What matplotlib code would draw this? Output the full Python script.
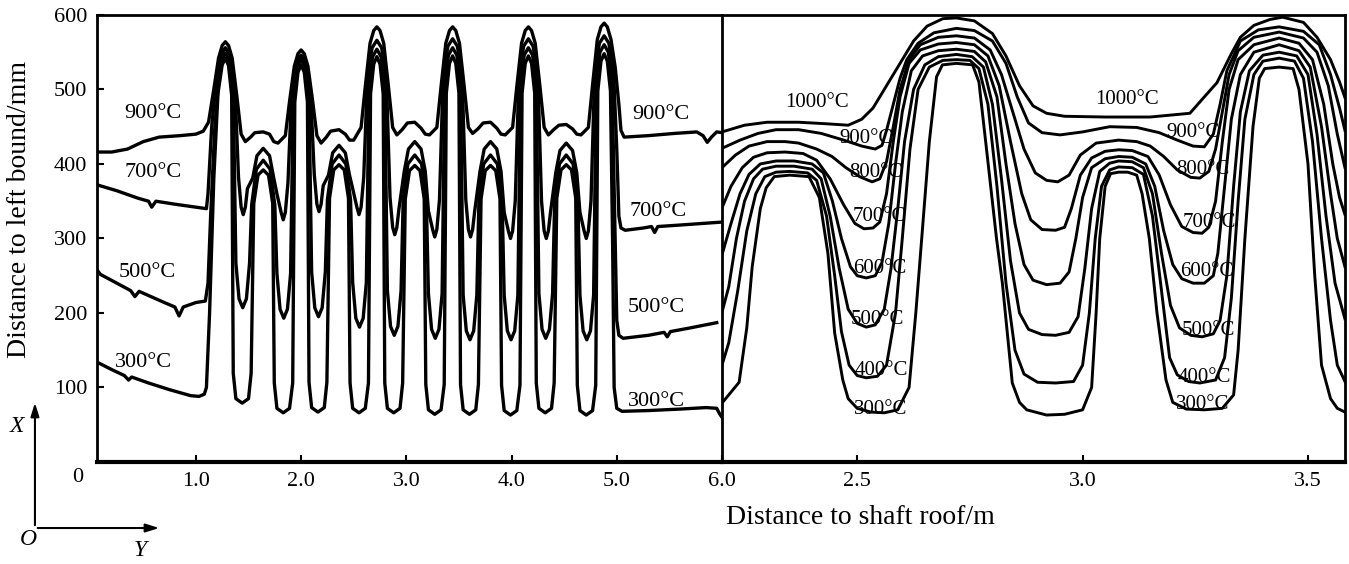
import matplotlib.pyplot as plt
from matplotlib.patches import FancyArrowPatch

# ---- left panel (0 - 6 m): isotherm traces, (x [m], distance [mm])
left_900 = [
    (0.06, 416), (0.20, 416), (0.35, 420), (0.50, 430), (0.65, 436), (0.85, 438), (1.00, 440), (1.07, 444), (1.12, 456),
    (1.17, 500), (1.215, 542), (1.25, 559), (1.28, 564), (1.31, 559), (1.345, 542), (1.39, 490), (1.43, 440), (1.47, 430),
    (1.52, 436), (1.56, 442), (1.64, 443), (1.70, 440), (1.74, 430), (1.78, 428),
    (1.85, 438), (1.89, 484), (1.935, 531), (1.97, 548), (2.00, 553), (2.03, 548), (2.065, 531), (2.11, 484), (2.15, 438), (2.19, 428),
    (2.24, 436), (2.28, 444), (2.36, 446), (2.42, 440), (2.46, 432), (2.50, 432),
    (2.57, 449), (2.61, 504), (2.655, 562), (2.69, 579), (2.72, 584), (2.75, 579), (2.785, 562), (2.83, 504), (2.87, 449), (2.91, 439),
    (2.96, 446), (3.01, 455), (3.08, 456), (3.14, 448), (3.18, 440), (3.22, 439),
    (3.29, 449), (3.33, 504), (3.375, 562), (3.41, 579), (3.44, 584), (3.47, 579), (3.505, 562), (3.55, 504), (3.59, 449), (3.63, 441),
    (3.68, 447), (3.73, 455), (3.80, 456), (3.86, 448), (3.90, 440), (3.94, 439),
    (4.01, 449), (4.05, 504), (4.095, 562), (4.13, 579), (4.16, 584), (4.19, 579), (4.225, 562), (4.27, 504), (4.31, 449), (4.35, 439),
    (4.40, 446), (4.45, 452), (4.52, 453), (4.58, 447), (4.62, 440), (4.66, 439),
    (4.73, 449), (4.77, 506), (4.815, 567), (4.85, 584), (4.88, 589), (4.91, 584), (4.945, 567), (4.985, 530), (5.02, 480), (5.04, 445), (5.07, 436),
    (5.30, 438), (5.55, 441), (5.76, 443), (5.82, 438), (5.86, 429), (5.90, 436), (5.95, 443), (6.00, 442),
]
left_700 = [
    (0.06, 372), (0.25, 364), (0.45, 354), (0.55, 350), (0.58, 342), (0.62, 350), (0.80, 346), (0.95, 343), (1.10, 340),
    (1.115, 360), (1.15, 450), (1.20, 520), (1.235, 546), (1.28, 556), (1.325, 546), (1.37, 506), (1.405, 382), (1.43, 342), (1.45, 332),
    (1.47, 342), (1.49, 367), (1.54, 381), (1.58, 411), (1.64, 421), (1.70, 411), (1.74, 381), (1.77, 360), (1.81, 335), (1.83, 325),
    (1.85, 335), (1.875, 375), (1.91, 496), (1.955, 536), (2.00, 546), (2.045, 536), (2.09, 496), (2.125, 386), (2.15, 346), (2.17, 336),
    (2.19, 346), (2.21, 371), (2.26, 385), (2.30, 415), (2.36, 425), (2.42, 415), (2.46, 385), (2.49, 367), (2.53, 342), (2.55, 332),
    (2.57, 342), (2.595, 382), (2.63, 516), (2.675, 556), (2.72, 566), (2.765, 556), (2.81, 516), (2.845, 355), (2.87, 315), (2.89, 305),
    (2.91, 315), (2.93, 340), (2.98, 390), (3.02, 420), (3.08, 430), (3.14, 420), (3.18, 390), (3.21, 337), (3.25, 312), (3.27, 302),
    (3.29, 312), (3.315, 352), (3.35, 518), (3.395, 558), (3.44, 568), (3.485, 558), (3.53, 518), (3.565, 352), (3.59, 312), (3.61, 302),
    (3.63, 312), (3.65, 337), (3.70, 390), (3.74, 420), (3.80, 430), (3.86, 420), (3.90, 390), (3.93, 335), (3.97, 310), (3.99, 300),
    (4.01, 310), (4.035, 350), (4.07, 518), (4.115, 558), (4.16, 568), (4.205, 558), (4.25, 518), (4.285, 350), (4.31, 310), (4.33, 300),
    (4.35, 310), (4.37, 335), (4.42, 388), (4.46, 418), (4.52, 428), (4.58, 418), (4.62, 388), (4.65, 335), (4.69, 310), (4.71, 300),
    (4.73, 310), (4.755, 350), (4.79, 522), (4.835, 562), (4.88, 572), (4.925, 562), (4.97, 522), (5.00, 420), (5.02, 330), (5.04, 314),
    (5.08, 311), (5.25, 314), (5.33, 316), (5.36, 308), (5.39, 316), (5.60, 318), (5.80, 320), (6.00, 322),
]
left_500 = [
    (0.06, 258), (0.09, 252), (0.30, 236), (0.38, 230), (0.42, 222), (0.46, 229), (0.70, 214), (0.80, 208), (0.84, 196), (0.88, 208),
    (1.00, 214), (1.09, 216), (1.115, 240), (1.14, 330), (1.18, 450), (1.22, 515), (1.24, 539), (1.28, 549), (1.32, 539), (1.355, 499),
    (1.38, 267), (1.41, 219), (1.445, 207), (1.48, 219), (1.51, 267), (1.53, 345), (1.575, 393), (1.64, 405), (1.705, 393), (1.75, 345),
    (1.77, 253), (1.80, 205), (1.835, 193), (1.87, 205), (1.90, 253), (1.925, 490), (1.96, 530), (2.00, 540), (2.04, 530), (2.075, 490),
    (2.10, 255), (2.13, 207), (2.165, 195), (2.20, 207), (2.23, 255), (2.25, 352), (2.295, 400), (2.36, 412), (2.425, 400), (2.47, 352),
    (2.49, 241), (2.52, 193), (2.555, 181), (2.59, 193), (2.62, 241), (2.645, 504), (2.68, 544), (2.72, 554), (2.76, 544), (2.795, 504),
    (2.82, 230), (2.85, 182), (2.885, 170), (2.92, 182), (2.95, 230), (2.97, 352), (3.015, 400), (3.08, 412), (3.145, 400), (3.19, 352),
    (3.21, 226), (3.24, 178), (3.275, 166), (3.31, 178), (3.34, 226), (3.365, 506), (3.40, 546), (3.44, 556), (3.48, 546), (3.515, 506),
    (3.54, 224), (3.57, 176), (3.605, 164), (3.64, 176), (3.67, 224), (3.69, 352), (3.735, 400), (3.80, 412), (3.865, 400), (3.91, 352),
    (3.93, 224), (3.96, 176), (3.995, 164), (4.03, 176), (4.06, 224), (4.085, 506), (4.12, 546), (4.16, 556), (4.20, 546), (4.235, 506),
    (4.26, 226), (4.29, 178), (4.325, 166), (4.36, 178), (4.39, 226), (4.41, 352), (4.455, 400), (4.52, 412), (4.585, 400), (4.63, 352),
    (4.65, 224), (4.68, 176), (4.715, 164), (4.75, 176), (4.78, 224), (4.805, 510), (4.84, 550), (4.88, 560), (4.92, 550), (4.955, 510),
    (4.985, 300), (5.00, 190), (5.02, 170), (5.06, 166), (5.30, 170), (5.45, 174), (5.48, 168), (5.51, 175), (5.70, 180), (5.95, 187),
]
left_300 = [
    (0.06, 134), (0.20, 124), (0.32, 116), (0.36, 110), (0.39, 114), (0.55, 106), (0.75, 97), (0.95, 89), (1.03, 88), (1.08, 91),
    (1.10, 100), (1.13, 200), (1.17, 380), (1.21, 495), (1.25, 533), (1.28, 542), (1.31, 532), (1.34, 492),
    (1.355, 119), (1.38, 85), (1.44, 79), (1.50, 85), (1.525, 119), (1.55, 347), (1.59, 385), (1.64, 392), (1.69, 385), (1.73, 347),
    (1.745, 106), (1.77, 72), (1.83, 66), (1.89, 72), (1.92, 106), (1.94, 483), (1.97, 523), (2.00, 533), (2.03, 523), (2.06, 483),
    (2.075, 107), (2.10, 73), (2.16, 67), (2.22, 73), (2.245, 107), (2.27, 354), (2.31, 392), (2.36, 399), (2.41, 392), (2.45, 354),
    (2.465, 106), (2.49, 72), (2.55, 66), (2.61, 72), (2.64, 106), (2.66, 494), (2.69, 534), (2.72, 544), (2.75, 534), (2.78, 494),
    (2.795, 106), (2.82, 72), (2.88, 66), (2.94, 72), (2.965, 106), (2.99, 353), (3.03, 391), (3.08, 398), (3.13, 391), (3.17, 353),
    (3.185, 104), (3.21, 70), (3.27, 64), (3.33, 70), (3.36, 104), (3.38, 495), (3.41, 535), (3.44, 545), (3.47, 535), (3.50, 495),
    (3.515, 104), (3.54, 70), (3.60, 64), (3.66, 70), (3.685, 104), (3.71, 353), (3.75, 391), (3.80, 398), (3.85, 391), (3.89, 353),
    (3.905, 103), (3.93, 69), (3.99, 63), (4.05, 69), (4.08, 103), (4.10, 495), (4.13, 535), (4.16, 545), (4.19, 535), (4.22, 495),
    (4.235, 106), (4.26, 72), (4.32, 66), (4.38, 72), (4.405, 106), (4.43, 354), (4.47, 392), (4.52, 399), (4.57, 392), (4.61, 354),
    (4.625, 103), (4.65, 69), (4.71, 63), (4.77, 69), (4.80, 103), (4.82, 498), (4.85, 538), (4.88, 548), (4.91, 538), (4.94, 498),
    (4.96, 300), (4.975, 100), (5.00, 72), (5.05, 68), (5.30, 69), (5.60, 71), (5.85, 73), (5.95, 72), (5.98, 64), (6.00, 60),
]

# ---- right panel (2.2 - 3.58 m), zoomed section
right_1000 = [
    (2.20, 443), (2.25, 452), (2.30, 456), (2.37, 456), (2.43, 454), (2.48, 452), (2.51, 460), (2.535, 475), (2.565, 505),
    (2.595, 535), (2.625, 565), (2.655, 585), (2.69, 595), (2.72, 596), (2.76, 592), (2.80, 575), (2.83, 545), (2.86, 505),
    (2.89, 478), (2.92, 468), (2.96, 464), (3.05, 463), (3.15, 463), (3.238, 468), (3.27, 490), (3.298, 509), (3.33, 548),
    (3.35, 570), (3.38, 586), (3.416, 594), (3.444, 597), (3.49, 590), (3.52, 570), (3.55, 540), (3.57, 510), (3.582, 489),
]
right_900 = [
    (2.20, 421), (2.24, 432), (2.28, 441), (2.32, 446), (2.37, 446), (2.42, 441), (2.47, 432), (2.51, 424), (2.54, 420),
    (2.555, 425), (2.565, 445), (2.58, 480), (2.595, 515), (2.61, 540), (2.635, 562), (2.67, 576), (2.72, 582), (2.76, 579),
    (2.80, 565), (2.83, 535), (2.855, 490), (2.88, 455), (2.91, 442), (2.95, 439), (3.00, 443), (3.06, 450), (3.12, 449),
    (3.17, 442), (3.21, 432), (3.245, 424), (3.27, 423), (3.29, 440), (3.305, 480), (3.32, 525), (3.35, 565), (3.39, 580),
    (3.436, 584), (3.49, 578), (3.525, 560), (3.55, 520), (3.57, 475), (3.582, 445),
]
right_800 = [
    (2.20, 395), (2.23, 412), (2.26, 424), (2.30, 430), (2.34, 430), (2.37, 428), (2.41, 420), (2.444, 410), (2.475, 395),
    (2.505, 383), (2.533, 376), (2.55, 380), (2.565, 403), (2.58, 450), (2.595, 500), (2.615, 540), (2.64, 560), (2.68, 570),
    (2.72, 572), (2.76, 569), (2.795, 553), (2.82, 520), (2.845, 470), (2.87, 420), (2.895, 388), (2.92, 378), (2.945, 376),
    (2.97, 385), (2.995, 412), (3.03, 428), (3.08, 432), (3.12, 430), (3.15, 424), (3.18, 410), (3.21, 392), (3.24, 382),
    (3.26, 381), (3.28, 390), (3.295, 420), (3.31, 470), (3.325, 520), (3.345, 552), (3.38, 570), (3.436, 577), (3.49, 569),
    (3.52, 550), (3.545, 505), (3.565, 440), (3.582, 395),
]
right_700 = [
    (2.20, 341), (2.22, 370), (2.245, 395), (2.27, 409), (2.30, 415), (2.34, 416), (2.38, 414), (2.41, 405), (2.44, 380),
    (2.47, 345), (2.495, 320), (2.515, 313), (2.535, 314), (2.55, 322), (2.565, 360), (2.58, 430), (2.595, 490), (2.615, 535),
    (2.64, 553), (2.68, 561), (2.72, 563), (2.76, 560), (2.79, 545), (2.815, 505), (2.84, 430), (2.865, 360), (2.885, 325),
    (2.91, 312), (2.94, 311), (2.96, 315), (2.975, 340), (2.995, 385), (3.02, 408), (3.05, 417), (3.08, 419), (3.11, 418),
    (3.145, 410), (3.17, 385), (3.195, 345), (3.22, 316), (3.245, 308), (3.265, 307), (3.28, 315), (3.295, 350), (3.31, 430),
    (3.325, 500), (3.345, 540), (3.38, 560), (3.436, 569), (3.48, 562), (3.51, 540), (3.535, 480), (3.555, 400), (3.57, 355),
    (3.582, 332),
]
right_600 = [
    (2.20, 278), (2.22, 320), (2.24, 360), (2.26, 386), (2.285, 400), (2.32, 404), (2.36, 404), (2.40, 400), (2.425, 388),
    (2.445, 350), (2.465, 300), (2.485, 262), (2.50, 250), (2.52, 247), (2.54, 250), (2.555, 268), (2.57, 320), (2.585, 400),
    (2.60, 470), (2.62, 525), (2.645, 545), (2.68, 552), (2.72, 554), (2.76, 551), (2.785, 537), (2.81, 490), (2.83, 400),
    (2.85, 320), (2.87, 265), (2.89, 244), (2.92, 238), (2.95, 240), (2.97, 255), (2.985, 300), (3.00, 355), (3.02, 395),
    (3.05, 407), (3.08, 410), (3.11, 409), (3.14, 400), (3.16, 370), (3.18, 310), (3.20, 265), (3.22, 246), (3.245, 240),
    (3.27, 240), (3.29, 250), (3.30, 280), (3.315, 370), (3.33, 460), (3.35, 520), (3.38, 550), (3.436, 560), (3.48, 552),
    (3.505, 530), (3.53, 450), (3.55, 360), (3.565, 300), (3.582, 262),
]
right_500 = [
    (2.20, 201), (2.215, 235), (2.232, 300), (2.25, 350), (2.27, 380), (2.29, 393), (2.32, 397), (2.36, 397), (2.40, 393),
    (2.42, 380), (2.44, 330), (2.46, 260), (2.48, 205), (2.50, 186), (2.52, 181), (2.54, 184), (2.56, 205), (2.575, 260),
    (2.59, 340), (2.605, 430), (2.625, 500), (2.65, 533), (2.68, 544), (2.72, 547), (2.755, 544), (2.78, 530), (2.80, 480),
    (2.82, 380), (2.84, 270), (2.86, 200), (2.88, 178), (2.91, 171), (2.94, 170), (2.97, 174), (2.99, 195), (3.005, 260),
    (3.02, 340), (3.038, 390), (3.06, 401), (3.08, 404), (3.11, 403), (3.135, 395), (3.155, 360), (3.175, 280), (3.195, 210),
    (3.215, 180), (3.24, 170), (3.265, 168), (3.29, 172), (3.305, 190), (3.32, 250), (3.335, 370), (3.35, 470), (3.37, 525),
    (3.40, 546), (3.436, 550), (3.475, 545), (3.50, 520), (3.52, 440), (3.54, 330), (3.56, 240), (3.582, 192),
]
right_400 = [
    (2.20, 130), (2.215, 160), (2.235, 230), (2.255, 310), (2.275, 360), (2.295, 383), (2.32, 389), (2.35, 390), (2.39, 388),
    (2.41, 378), (2.432, 330), (2.45, 250), (2.465, 175), (2.482, 130), (2.50, 116), (2.52, 113), (2.545, 115), (2.565, 130),
    (2.585, 200), (2.60, 300), (2.617, 420), (2.635, 500), (2.66, 530), (2.69, 539), (2.72, 540), (2.75, 539), (2.77, 528),
    (2.79, 480), (2.81, 370), (2.83, 240), (2.85, 150), (2.87, 118), (2.90, 107), (2.94, 106), (2.98, 108), (3.00, 130),
    (3.015, 200), (3.028, 300), (3.042, 370), (3.06, 392), (3.08, 396), (3.11, 395), (3.135, 386), (3.155, 330), (3.175, 230),
    (3.193, 140), (3.21, 117), (3.235, 108), (3.26, 106), (3.295, 110), (3.315, 140), (3.33, 220), (3.345, 350), (3.36, 460),
    (3.38, 520), (3.40, 538), (3.436, 542), (3.47, 538), (3.49, 515), (3.51, 430), (3.53, 300), (3.55, 190), (3.565, 130),
    (3.582, 108),
]
right_300 = [
    (2.20, 79), (2.238, 107), (2.255, 180), (2.267, 262), (2.285, 340), (2.298, 368), (2.316, 383), (2.35, 385), (2.393, 383),
    (2.416, 355), (2.435, 280), (2.45, 173), (2.468, 110), (2.48, 85), (2.50, 72), (2.53, 67), (2.56, 66), (2.59, 70),
    (2.615, 100), (2.63, 200), (2.644, 307), (2.66, 430), (2.676, 517), (2.689, 533), (2.72, 535), (2.756, 533), (2.77, 510),
    (2.787, 419), (2.809, 300), (2.822, 240), (2.844, 106), (2.86, 80), (2.876, 70), (2.92, 63), (2.96, 64), (3.00, 70),
    (3.02, 100), (3.03, 200), (3.038, 300), (3.05, 370), (3.062, 387), (3.08, 389), (3.10, 389), (3.12, 385), (3.132, 360),
    (3.148, 300), (3.165, 200), (3.185, 110), (3.20, 80), (3.23, 71), (3.27, 70), (3.31, 72), (3.335, 90), (3.345, 150),
    (3.36, 300), (3.378, 450), (3.392, 515), (3.404, 528), (3.436, 530), (3.467, 528), (3.48, 500), (3.50, 400), (3.515, 250),
    (3.53, 130), (3.55, 85), (3.565, 72), (3.582, 67),
]

left_curves = [left_900, left_700, left_500, left_300]
right_curves = [right_1000, right_900, right_800, right_700, right_600, right_500, right_400, right_300]

# isotherm labels: (text, x, y)
left_labels = [
    ("900°C", 0.59, 468), ("700°C", 0.59, 389), ("500°C", 0.54, 254), ("300°C", 0.50, 134),
    ("900°C", 5.42, 466), ("700°C", 5.39, 336), ("500°C", 5.38, 207), ("300°C", 5.38, 81),
]
right_labels = [
    ("1000°C", 2.41, 482), ("900°C", 2.520, 434), ("800°C", 2.542, 389), ("700°C", 2.549, 330),
    ("600°C", 2.549, 260), ("500°C", 2.544, 191), ("400°C", 2.553, 123), ("300°C", 2.553, 70),
    ("1000°C", 3.098, 486), ("900°C", 3.244, 442), ("800°C", 3.267, 392), ("700°C", 3.282, 322),
    ("600°C", 3.276, 255), ("500°C", 3.278, 177), ("400°C", 3.271, 114), ("300°C", 3.267, 77),
]

left_xticks = [1.0, 2.0, 3.0, 4.0, 5.0, 6.0]
right_xticks = [2.5, 3.0, 3.5]
yticks = [100, 200, 300, 400, 500, 600]


def main():
    plt.rcParams["font.family"] = ["Liberation Serif", "DejaVu Serif"]
    fig = plt.figure(figsize=(13.49, 5.64), dpi=100)
    ax1 = fig.add_axes([0.0719, 0.1809, 0.4633, 0.7926])
    ax2 = fig.add_axes([0.5352, 0.1809, 0.4618, 0.7926], sharey=ax1)
    ax2.patch.set_visible(False)

    for pts in left_curves:
        xs, ys = zip(*pts)
        ax1.plot(xs, ys, color="black", lw=2.4, solid_joinstyle="round")
    for pts in right_curves:
        xs, ys = zip(*pts)
        ax2.plot(xs, ys, color="black", lw=2.1, solid_joinstyle="round")

    for txt, x, y in left_labels:
        ax1.text(x, y, txt, fontsize=16, ha="center", va="center")
    for txt, x, y in right_labels:
        ax2.text(x, y, txt, fontsize=15, ha="center", va="center")

    ax1.set_xlim(0.06, 6.0)
    ax2.set_xlim(2.2, 3.582)
    ax1.set_ylim(0, 600)
    ax1.set_xticks(left_xticks)
    ax1.set_xticklabels([f"{v:.1f}" for v in left_xticks])
    ax2.set_xticks(right_xticks)
    ax2.set_xticklabels([f"{v:.1f}" for v in right_xticks])
    ax1.set_yticks(yticks)
    ax1.set_yticklabels([str(v) for v in yticks])

    for ax in (ax1, ax2):
        ax.tick_params(direction="in", length=5, width=1.5, labelsize=16, pad=7)
        for s in ax.spines.values():
            s.set_linewidth(2.0)
        ax.spines["bottom"].set_linewidth(3.0)
    ax2.spines["left"].set_visible(False)
    ax2.tick_params(axis="y", left=False, labelleft=False)

    fig.text(0.0578, 0.154, "0", fontsize=16, ha="center", va="center")
    fig.text(0.0148, 0.628, "Distance to left bound/mm", fontsize=20, rotation=90, ha="center", va="center")
    fig.text(0.6375, 0.0816, "Distance to shaft roof/m", fontsize=20, ha="center", va="center")

    # coordinate sketch at the lower left
    ox, oy = 0.0259, 0.0638
    fig.add_artist(FancyArrowPatch((ox, oy), (ox, 0.2908), transform=fig.transFigure,
                                   arrowstyle="-|>,head_length=8,head_width=2.5", color="black", lw=1.5))
    fig.add_artist(FancyArrowPatch((ox, oy), (0.1201, oy), transform=fig.transFigure,
                                   arrowstyle="-|>,head_length=8,head_width=2.5", color="black", lw=1.5))
    fig.text(0.0126, 0.243, "X", fontsize=17, style="italic", ha="center", va="center")
    fig.text(0.0208, 0.0426, "O", fontsize=17, style="italic", ha="center", va="center")
    fig.text(0.1038, 0.0248, "Y", fontsize=17, style="italic", ha="center", va="center")

    fig.savefig("out.png", dpi=100)


if __name__ == "__main__":
    main()
